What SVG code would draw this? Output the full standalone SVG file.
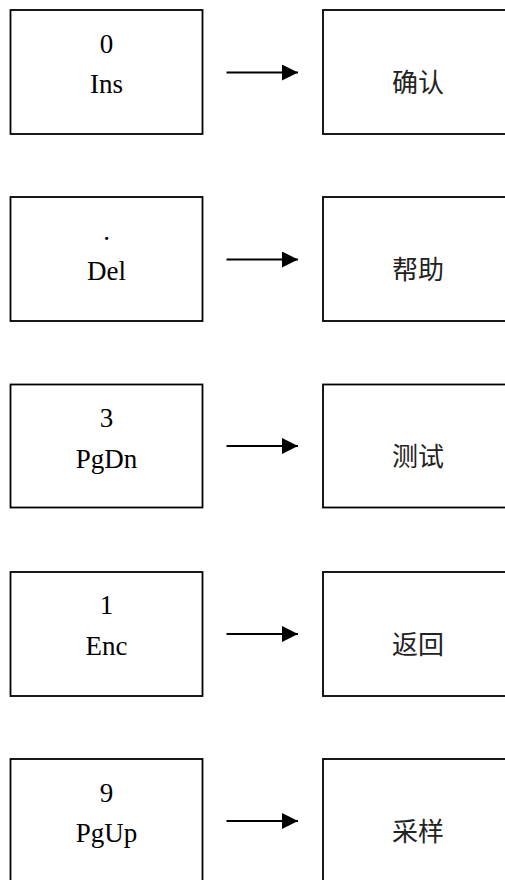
<svg xmlns="http://www.w3.org/2000/svg" width="505" height="880" viewBox="0 0 505 880">
<style>
.box{fill:#fff;stroke:#000;stroke-width:1.8}
.lat{font-family:"Liberation Serif","Times New Roman",serif;font-size:27px;text-anchor:middle;fill:#000}
.cjk{font-family:"Noto Sans CJK SC",sans-serif;font-size:26px;text-anchor:middle;fill:#222}
.arr{stroke:#000;stroke-width:2;fill:none}
</style>
<defs>
<marker id="ah" markerWidth="16" markerHeight="16" refX="16" refY="8" orient="auto" markerUnits="userSpaceOnUse">
<path d="M0,0 L16,8 L0,16 Z" fill="#000"/>
</marker>
</defs>
<rect width="505" height="880" fill="#fff"/>
<g id="key0"><rect class="box" x="10.5" y="10" width="192" height="124"/><text class="lat" x="106.5" y="52.5">0</text><text class="lat" x="106.5" y="93">Ins</text></g>
<g id="fn0"><rect class="box" x="323" y="10" width="192" height="124"/><text class="cjk" x="418" y="91.5">确认</text></g>
<g id="keyDel"><rect class="box" x="10.5" y="197" width="192" height="124"/><text class="lat" x="106.5" y="239.5">.</text><text class="lat" x="106.5" y="280">Del</text></g>
<g id="fnDel"><rect class="box" x="323" y="197" width="192" height="124"/><text class="cjk" x="418" y="278.5">帮助</text></g>
<g id="key3"><rect class="box" x="10.5" y="384.5" width="192" height="123"/><text class="lat" x="106.5" y="427">3</text><text class="lat" x="106.5" y="467.5">PgDn</text></g>
<g id="fn3"><rect class="box" x="323" y="384.5" width="192" height="123"/><text class="cjk" x="418" y="466">测试</text></g>
<g id="key1"><rect class="box" x="10.5" y="572" width="192" height="124"/><text class="lat" x="106.5" y="614">1</text><text class="lat" x="106.5" y="655">Enc</text></g>
<g id="fn1"><rect class="box" x="323" y="572" width="192" height="124"/><text class="cjk" x="418" y="653.5">返回</text></g>
<g id="key9"><rect class="box" x="10.5" y="759" width="192" height="124"/><text class="lat" x="106.5" y="801.5">9</text><text class="lat" x="106.5" y="842">PgUp</text></g>
<g id="fn9"><rect class="box" x="323" y="759" width="192" height="124"/><text class="cjk" x="418" y="840.5">采样</text></g>
<g id="connectors">
<line class="arr" x1="226.5" y1="72.5" x2="298" y2="72.5" marker-end="url(#ah)"/>
<line class="arr" x1="226.5" y1="259.5" x2="298" y2="259.5" marker-end="url(#ah)"/>
<line class="arr" x1="226.5" y1="446" x2="298" y2="446" marker-end="url(#ah)"/>
<line class="arr" x1="226.5" y1="634" x2="298" y2="634" marker-end="url(#ah)"/>
<line class="arr" x1="226.5" y1="821" x2="298" y2="821" marker-end="url(#ah)"/>
</g>
</svg>
